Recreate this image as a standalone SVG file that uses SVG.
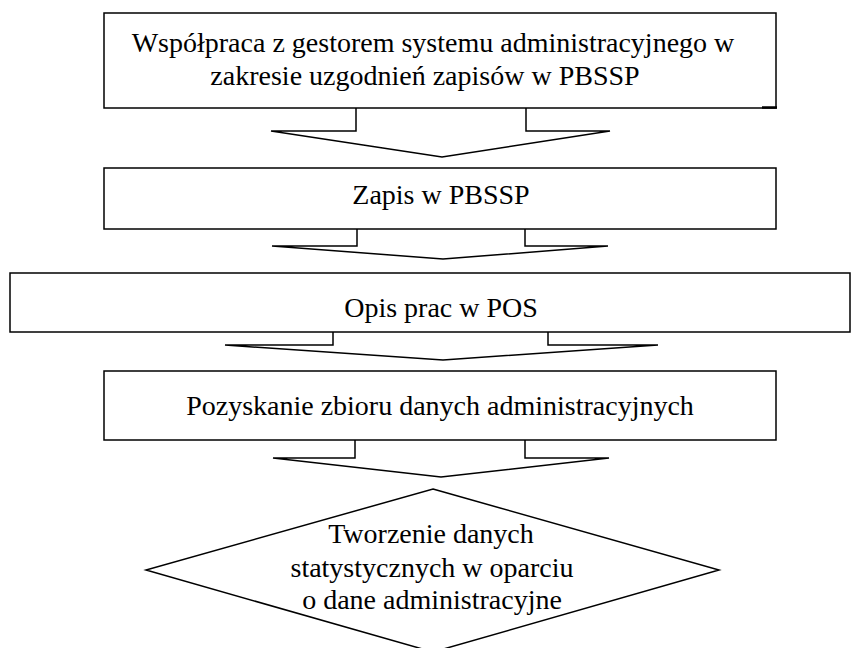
<svg xmlns="http://www.w3.org/2000/svg" width="859" height="648" viewBox="0 0 859 648">
<style>
.s{fill:#fff;stroke:#000;stroke-width:1.5}
.a{fill:none;stroke:#000;stroke-width:1.5;stroke-linejoin:miter}
.t{font-family:'Liberation Serif','Times New Roman',serif;font-size:28px;fill:#000;text-anchor:middle}
</style>
<rect width="859" height="648" fill="#fff"/>
<g id="connectors">
<path class="a" d="M356,108 V131 H271 L442,157 L610,131 H526 V108"/>
<path class="a" d="M357,229 V246 H272 L443,259 L608,246 H525 V229"/>
<path class="a" d="M333,332 V345 H225 L443,360 L658,345 H548 V332"/>
<path class="a" d="M355,440 V458 H273 L441,477 L609,458 H525 V440"/>
</g>
<g id="n1"><rect class="s" x="104" y="13" width="672" height="95"/>
<line x1="762" y1="107.5" x2="777" y2="107.5" stroke="#000" stroke-width="2.5"/>
<text class="t" x="433" y="52">Współpraca z gestorem systemu administracyjnego w</text>
<text class="t" x="425" y="85">zakresie uzgodnień zapisów w PBSSP</text></g>
<g id="n2"><rect class="s" x="104" y="168" width="672" height="61"/>
<text class="t" x="441" y="204">Zapis w PBSSP</text></g>
<g id="n3"><rect class="s" x="10" y="273" width="840" height="59"/>
<text class="t" x="441" y="317">Opis prac w POS</text></g>
<g id="n4"><rect class="s" x="104" y="371" width="672" height="69"/>
<text class="t" x="440" y="415">Pozyskanie zbioru danych administracyjnych</text></g>
<g id="n5"><polygon class="s" points="433,489 719,570 433,652 146,570"/>
<text class="t" x="431" y="543">Tworzenie danych</text>
<text class="t" x="432" y="577">statystycznych w oparciu</text>
<text class="t" x="432" y="609">o dane administracyjne</text></g>
</svg>
